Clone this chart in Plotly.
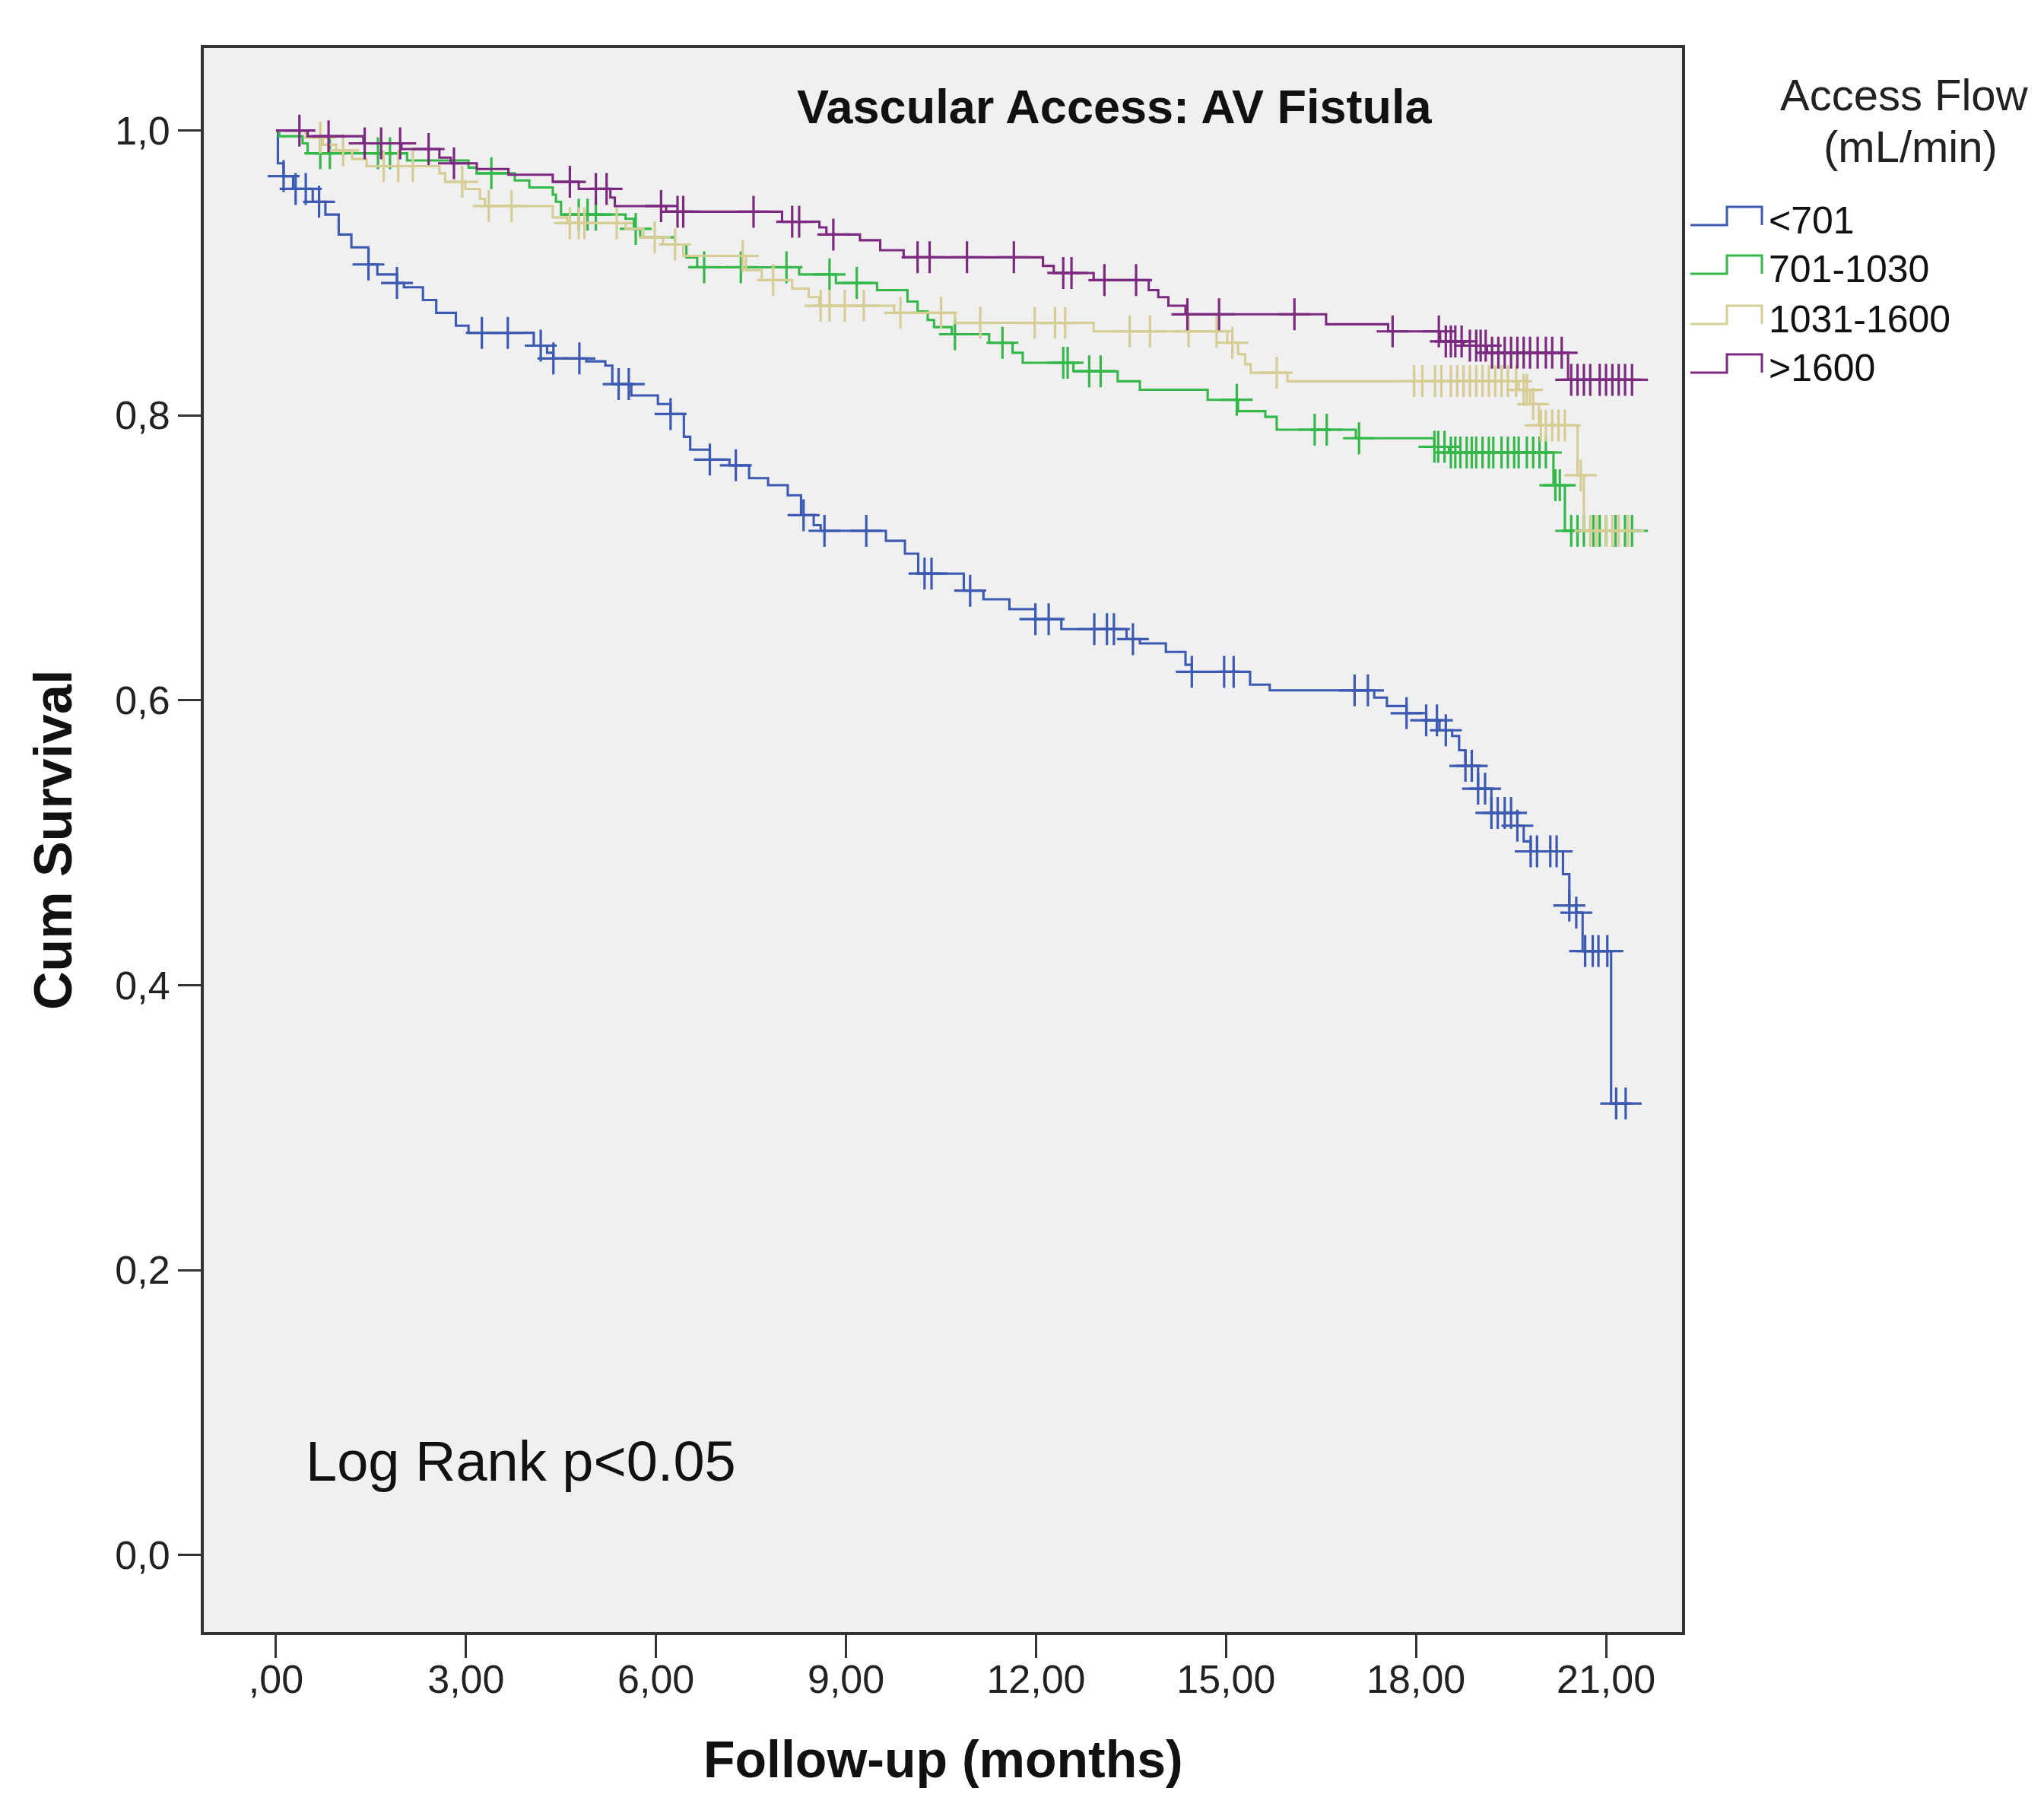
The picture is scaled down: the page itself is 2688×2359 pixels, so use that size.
import numpy as np
import plotly.graph_objects as go

# ---------------- data ----------------
GROUPS = ["<701", "701-1030", "1031-1600", ">1600"]
COLORS = ["#3d5ab3", "#35b84a", "#d6cd95", "#7b2a80"]

blue_t = [0.03, 0.12, 0.27, 0.58, 0.78, 0.99, 1.19, 1.46, 1.60, 1.91, 2.02, 2.32, 2.53, 2.84, 3.04,
          4.07, 4.28, 4.38, 4.90, 5.20, 5.31, 5.61, 6.03, 6.23, 6.44, 6.54, 6.85, 7.16, 7.47, 7.77,
          8.08, 8.29, 8.49, 8.60, 9.63, 9.93, 10.14, 10.86, 11.17, 11.58, 11.99, 12.40, 13.43, 13.64,
          14.05, 14.36, 14.46, 15.38, 15.69, 17.34, 17.54, 17.85, 18.16, 18.37, 18.57, 18.68, 18.78,
          18.98, 19.19, 19.60, 19.70, 19.81, 20.32, 20.42, 20.53, 20.63, 21.08]
blue_s = [0.977, 0.968, 0.959, 0.950, 0.941, 0.927, 0.918, 0.906, 0.899, 0.893, 0.890, 0.881, 0.872,
          0.863, 0.858, 0.849, 0.844, 0.840, 0.838, 0.835, 0.822, 0.814, 0.808, 0.801, 0.785, 0.776,
          0.769, 0.765, 0.756, 0.751, 0.744, 0.730, 0.723, 0.719, 0.712, 0.703, 0.689, 0.677, 0.671,
          0.664, 0.657, 0.650, 0.643, 0.640, 0.634, 0.625, 0.620, 0.611, 0.607, 0.602, 0.596, 0.591,
          0.586, 0.579, 0.575, 0.565, 0.554, 0.538, 0.521, 0.512, 0.501, 0.494, 0.478, 0.456, 0.451,
          0.424, 0.317]
blue_end = 21.35
blue_cens = [0.12, 0.31, 0.47, 0.68, 1.46, 1.91, 3.25, 3.66, 4.18, 4.38, 4.79, 5.41, 5.57, 6.23, 6.85,
             7.26, 8.33, 8.66, 9.32, 10.24, 10.35, 10.96, 11.99, 12.20, 12.92, 13.12, 13.23, 13.53,
             14.46, 14.97, 15.12, 17.03, 17.24, 17.85, 18.16, 18.33, 18.47, 18.78, 18.88, 18.98, 19.09,
             19.19, 19.29, 19.40, 19.50, 19.60, 19.81, 19.91, 20.12, 20.22, 20.42, 20.53, 20.67, 20.79,
             20.88, 21.02, 21.16, 21.31]

green_t = [0.05, 0.42, 0.50, 2.07, 3.04, 3.17, 3.77, 4.00, 4.37, 4.42, 4.50, 5.52, 5.65, 5.75, 6.30,
           6.48, 6.65, 8.26, 8.84, 9.49, 9.97, 10.13, 10.29, 10.39, 10.67, 11.26, 11.63, 11.79, 12.59,
           13.29, 13.64, 14.71, 15.19, 15.62, 15.80, 17.05, 18.29, 18.52, 20.17, 20.35]
green_s = [0.996, 0.991, 0.984, 0.979, 0.974, 0.970, 0.965, 0.960, 0.955, 0.950, 0.941, 0.938, 0.931,
           0.925, 0.920, 0.911, 0.904, 0.899, 0.893, 0.888, 0.880, 0.873, 0.867, 0.862, 0.857, 0.851,
           0.844, 0.837, 0.831, 0.824, 0.818, 0.811, 0.803, 0.799, 0.790, 0.784, 0.778, 0.774, 0.751,
           0.719]
green_end = 21.46
green_cens = [0.70, 0.85, 1.61, 1.80, 3.40, 4.78, 4.92, 5.05, 5.68, 6.76, 7.34, 8.06, 8.74, 9.17,
              10.72, 11.47, 12.43, 12.50, 12.84, 13.02, 15.17, 16.40, 16.59, 17.10, 18.29, 18.35,
              18.45, 18.55, 18.62, 18.70, 18.80, 18.88, 18.95, 19.05, 19.15, 19.22, 19.35, 19.45,
              19.55, 19.62, 19.75, 19.85, 19.95, 20.05, 20.20, 20.27, 20.45, 20.55, 20.65, 20.80,
              20.90, 21.00, 21.15, 21.30, 21.41]

tan_t = [0.47, 0.74, 0.95, 1.20, 1.43, 2.58, 2.67, 2.99, 3.22, 3.30, 4.37, 4.60, 5.52, 5.80, 6.11,
         6.43, 7.42, 7.67, 8.15, 8.41, 8.58, 9.76, 10.72, 12.91, 15.02, 15.19, 15.30, 15.39, 15.97,
         19.62, 19.80, 19.94, 20.55, 20.65]
tan_s = [0.995, 0.990, 0.986, 0.980, 0.975, 0.970, 0.964, 0.959, 0.952, 0.947, 0.939, 0.935, 0.931,
         0.925, 0.920, 0.912, 0.902, 0.895, 0.889, 0.883, 0.877, 0.872, 0.865, 0.859, 0.851, 0.843,
         0.836, 0.830, 0.824, 0.818, 0.808, 0.793, 0.758, 0.719]
tan_end = 21.40
tan_cens = [0.70, 1.06, 1.70, 1.93, 2.16, 2.94, 3.36, 3.72, 4.64, 4.78, 4.87, 5.38, 5.98, 6.30, 7.37,
            7.85, 8.60, 8.74, 8.98, 9.28, 9.86, 10.50, 11.12, 11.98, 12.30, 12.46, 13.48, 13.80, 14.41,
            14.85, 15.10, 15.80, 17.97, 18.10, 18.30, 18.40, 18.55, 18.65, 18.75, 18.85, 18.95, 19.05,
            19.15, 19.25, 19.35, 19.45, 19.58, 19.70, 19.75, 19.85, 19.97, 20.05, 20.15, 20.25, 20.35,
            20.60, 20.75, 20.85, 21.00, 21.10, 21.20, 21.35]

purple_t = [0.50, 1.38, 1.98, 2.58, 2.76, 3.17, 3.67, 4.37, 4.78, 5.28, 5.35, 6.16, 7.99, 8.58, 8.69,
            9.22, 9.54, 9.91, 12.11, 12.28, 12.91, 13.78, 13.93, 14.09, 14.36, 16.58, 17.56, 18.38,
            18.75, 19.12, 20.40]
purple_s = [0.996, 0.991, 0.987, 0.981, 0.977, 0.973, 0.969, 0.964, 0.959, 0.953, 0.947, 0.943, 0.936,
            0.932, 0.927, 0.923, 0.916, 0.911, 0.905, 0.900, 0.895, 0.888, 0.883, 0.877, 0.871, 0.864,
            0.859, 0.852, 0.849, 0.844, 0.825]
purple_end = 21.50
purple_cens = [0.37, 0.83, 1.40, 1.66, 1.96, 2.41, 2.81, 4.64, 5.05, 5.22, 6.08, 6.34, 6.43, 7.54, 8.15,
               8.26, 8.80, 10.13, 10.32, 10.91, 11.65, 12.43, 12.56, 13.08, 13.58, 14.39, 14.89, 16.08,
               17.63, 18.36, 18.47, 18.55, 18.62, 18.72, 18.85, 18.95, 19.02, 19.10, 19.20, 19.30,
               19.40, 19.50, 19.60, 19.70, 19.80, 19.92, 20.05, 20.15, 20.30, 20.45, 20.55, 20.65,
               20.75, 20.90, 21.00, 21.10, 21.20, 21.30, 21.41]

X_TICKS = [0, 3, 6, 9, 12, 15, 18, 21]
X_TICKTEXT = [",00", "3,00", "6,00", "9,00", "12,00", "15,00", "18,00", "21,00"]
Y_TICKS = [0.0, 0.2, 0.4, 0.6, 0.8, 1.0]
Y_TICKTEXT = ["0,0", "0,2", "0,4", "0,6", "0,8", "1,0"]

series = [
    (blue_t, blue_s, blue_end, blue_cens),
    (green_t, green_s, green_end, green_cens),
    (tan_t, tan_s, tan_end, tan_cens),
    (purple_t, purple_s, purple_end, purple_cens),
]

# ---------------- figure ----------------
W, H = 2688, 2359
L, R, T, B = 260, 2688 - 2204, 55, 2359 - 2138
PW, PH = W - L - R, H - T - B

fig = go.Figure()
for (t, s, t_end, cens), name, col in zip(series, GROUPS, COLORS):
    t = np.asarray(t, float)
    s = np.asarray(s, float)
    xs = np.concatenate([[0.0], t, [t_end]])
    ys = np.concatenate([[1.0], s, [s[-1]]])
    fig.add_trace(go.Scatter(x=xs, y=ys, mode="lines", line=dict(color=col, width=3.1, shape="hv"),
                             name=name, showlegend=False, hoverinfo="skip"))
    c = np.asarray(cens, float)
    idx = np.searchsorted(t, c, side="right")
    cy = np.where(idx == 0, 1.0, s[np.maximum(idx - 1, 0)])
    fig.add_trace(go.Scatter(x=c, y=cy, mode="markers", showlegend=False, name=name + " censored",
                             marker=dict(symbol="cross-thin", size=30,
                                         line=dict(color=col, width=3.2))))


def px(X):
    return (X - L) / PW


def py(Y):
    return (T + PH - Y) / PH


BOLD = "Liberation Sans Narrow, Arial Narrow, Liberation Sans"
REG = "Liberation Sans, Arial"


def ann(text, X, Y, size, family, xanchor="center", color="#111", **kw):
    return dict(text=text, x=px(X), y=py(Y), xref="paper", yref="paper", xanchor=xanchor,
                yanchor="middle", showarrow=False, font=dict(family=family, size=size, color=color),
                **kw)


annotations = [
    ann("<b>Vascular Access: AV Fistula</b>", 1458, 132, 63, BOLD),
    ann("<b>Cum Survival</b>", 62, 1097, 70, BOLD, textangle=-90),
    ann("<b>Follow-up (months)</b>", 1232, 2305, 68, BOLD),
    ann("Log Rank p<0.05", 392, 1913, 74, REG, xanchor="left"),
    ann("Access Flow", 2496, 116, 58, REG, color="#222"),
    ann("(mL/min)", 2504, 184, 58, REG, color="#222"),
]

shapes = []
low_rows = [288, 352, 418, 482]
for name, col, low in zip(GROUPS, COLORS, low_rows):
    top = low - 24
    path = (f"M {px(2215)} {py(low)} L {px(2263)} {py(low)} L {px(2263)} {py(top)} "
            f"L {px(2309)} {py(top)} L {px(2309)} {py(low)}")
    shapes.append(dict(type="path", path=path, xref="paper", yref="paper",
                       line=dict(color=col, width=3)))
    annotations.append(ann(name, 2316, low - 6, 50, REG, xanchor="left"))

axis_common = dict(showgrid=False, zeroline=False, showline=True, mirror=True, linecolor="#333",
                   linewidth=4, ticks="outside", ticklen=30, tickwidth=3, tickcolor="#333",
                   tickfont=dict(family=REG, size=52, color="#222"))

fig.update_layout(
    width=W, height=H,
    margin=dict(l=L, r=R, t=T, b=B),
    paper_bgcolor="white", plot_bgcolor="#f0f0f0",
    xaxis=dict(range=[-1.14, 22.2], tickvals=X_TICKS, ticktext=X_TICKTEXT, ticklabelstandoff=-16,
               **axis_common),
    yaxis=dict(range=[-0.054, 1.058], tickvals=Y_TICKS, ticktext=Y_TICKTEXT, **axis_common),
    annotations=annotations, shapes=shapes, showlegend=False,
)

fig.write_html("out.html")
